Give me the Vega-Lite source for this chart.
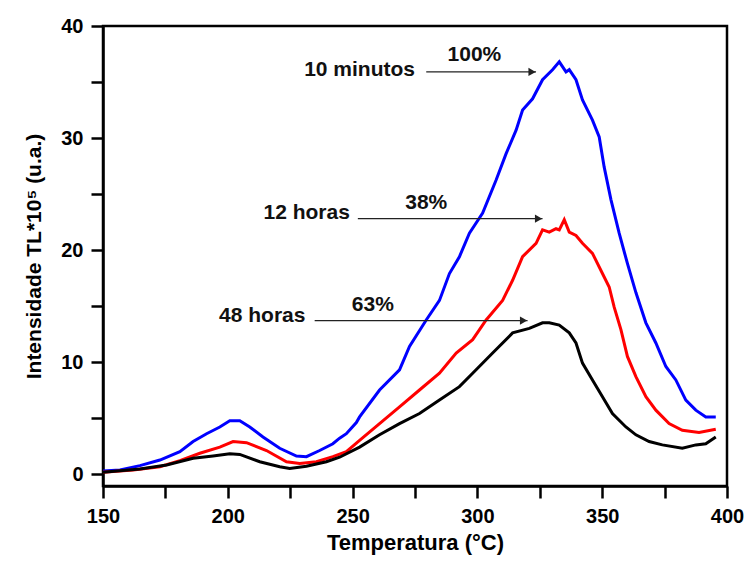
{
  "$schema": "https://vega.github.io/schema/vega-lite/v6.json",
  "width": 624,
  "height": 460,
  "autosize": {"type": "none"},
  "padding": {"left": 103, "top": 26, "right": 20, "bottom": 77},
  "background": "white",
  "config": {
    "view": {"stroke": "black", "strokeWidth": 2.5},
    "font": "Liberation Sans"
  },
  "datasets": {
    "curves": [
      {"serie": "10 minutos", "T": 150, "I": 0.27},
      {"serie": "10 minutos", "T": 156.8, "I": 0.36},
      {"serie": "10 minutos", "T": 164.8, "I": 0.75},
      {"serie": "10 minutos", "T": 172.8, "I": 1.25},
      {"serie": "10 minutos", "T": 180.8, "I": 2.0},
      {"serie": "10 minutos", "T": 186.1, "I": 2.9},
      {"serie": "10 minutos", "T": 191.5, "I": 3.6},
      {"serie": "10 minutos", "T": 196.8, "I": 4.2},
      {"serie": "10 minutos", "T": 200.8, "I": 4.75},
      {"serie": "10 minutos", "T": 204.8, "I": 4.75},
      {"serie": "10 minutos", "T": 208.8, "I": 4.2},
      {"serie": "10 minutos", "T": 214.1, "I": 3.3},
      {"serie": "10 minutos", "T": 220.8, "I": 2.3},
      {"serie": "10 minutos", "T": 227.5, "I": 1.6},
      {"serie": "10 minutos", "T": 231.5, "I": 1.55},
      {"serie": "10 minutos", "T": 236.8, "I": 2.1},
      {"serie": "10 minutos", "T": 242.1, "I": 2.7},
      {"serie": "10 minutos", "T": 244.8, "I": 3.2},
      {"serie": "10 minutos", "T": 247.5, "I": 3.6},
      {"serie": "10 minutos", "T": 251.5, "I": 4.6},
      {"serie": "10 minutos", "T": 252.8, "I": 5.1},
      {"serie": "10 minutos", "T": 260.8, "I": 7.5},
      {"serie": "10 minutos", "T": 268.8, "I": 9.3},
      {"serie": "10 minutos", "T": 272.8, "I": 11.4},
      {"serie": "10 minutos", "T": 279.5, "I": 13.75},
      {"serie": "10 minutos", "T": 284.8, "I": 15.5},
      {"serie": "10 minutos", "T": 288.8, "I": 17.9},
      {"serie": "10 minutos", "T": 292.8, "I": 19.4},
      {"serie": "10 minutos", "T": 296.8, "I": 21.5},
      {"serie": "10 minutos", "T": 302.1, "I": 23.3},
      {"serie": "10 minutos", "T": 307.5, "I": 26.25},
      {"serie": "10 minutos", "T": 311.5, "I": 28.6},
      {"serie": "10 minutos", "T": 315.5, "I": 30.7},
      {"serie": "10 minutos", "T": 318.1, "I": 32.5},
      {"serie": "10 minutos", "T": 322.1, "I": 33.5},
      {"serie": "10 minutos", "T": 326.1, "I": 35.2},
      {"serie": "10 minutos", "T": 330.1, "I": 36.1},
      {"serie": "10 minutos", "T": 332.8, "I": 36.8},
      {"serie": "10 minutos", "T": 335.5, "I": 35.9},
      {"serie": "10 minutos", "T": 336.8, "I": 36.1},
      {"serie": "10 minutos", "T": 339.5, "I": 35.2},
      {"serie": "10 minutos", "T": 342.1, "I": 33.4},
      {"serie": "10 minutos", "T": 346.1, "I": 31.6},
      {"serie": "10 minutos", "T": 348.8, "I": 30.1},
      {"serie": "10 minutos", "T": 350.8, "I": 27.4},
      {"serie": "10 minutos", "T": 353.5, "I": 24.5},
      {"serie": "10 minutos", "T": 356.8, "I": 21.5},
      {"serie": "10 minutos", "T": 360.1, "I": 18.8},
      {"serie": "10 minutos", "T": 363.5, "I": 16.2},
      {"serie": "10 minutos", "T": 367.5, "I": 13.5},
      {"serie": "10 minutos", "T": 371.5, "I": 11.7},
      {"serie": "10 minutos", "T": 375.5, "I": 9.6},
      {"serie": "10 minutos", "T": 379.5, "I": 8.4},
      {"serie": "10 minutos", "T": 383.5, "I": 6.6},
      {"serie": "10 minutos", "T": 387.5, "I": 5.7},
      {"serie": "10 minutos", "T": 391.5, "I": 5.1},
      {"serie": "10 minutos", "T": 395.5, "I": 5.1},
      {"serie": "12 horas", "T": 150, "I": 0.15},
      {"serie": "12 horas", "T": 162.1, "I": 0.36},
      {"serie": "12 horas", "T": 172.8, "I": 0.65},
      {"serie": "12 horas", "T": 180.8, "I": 1.2},
      {"serie": "12 horas", "T": 188.8, "I": 1.85},
      {"serie": "12 horas", "T": 196.8, "I": 2.4},
      {"serie": "12 horas", "T": 202.1, "I": 2.9},
      {"serie": "12 horas", "T": 207.5, "I": 2.8},
      {"serie": "12 horas", "T": 215.5, "I": 2.1},
      {"serie": "12 horas", "T": 223.5, "I": 1.1},
      {"serie": "12 horas", "T": 228.8, "I": 0.95},
      {"serie": "12 horas", "T": 235.5, "I": 1.1},
      {"serie": "12 horas", "T": 242.1, "I": 1.55},
      {"serie": "12 horas", "T": 247.5, "I": 2.0},
      {"serie": "12 horas", "T": 252.8, "I": 3.0},
      {"serie": "12 horas", "T": 260.8, "I": 4.5},
      {"serie": "12 horas", "T": 268.8, "I": 6.0},
      {"serie": "12 horas", "T": 276.8, "I": 7.5},
      {"serie": "12 horas", "T": 284.8, "I": 9.0},
      {"serie": "12 horas", "T": 291.5, "I": 10.8},
      {"serie": "12 horas", "T": 298.1, "I": 12.0},
      {"serie": "12 horas", "T": 303.5, "I": 13.75},
      {"serie": "12 horas", "T": 310.1, "I": 15.5},
      {"serie": "12 horas", "T": 314.1, "I": 17.3},
      {"serie": "12 horas", "T": 318.1, "I": 19.4},
      {"serie": "12 horas", "T": 323.5, "I": 20.6},
      {"serie": "12 horas", "T": 326.1, "I": 21.8},
      {"serie": "12 horas", "T": 328.8, "I": 21.6},
      {"serie": "12 horas", "T": 331.5, "I": 21.9},
      {"serie": "12 horas", "T": 332.8, "I": 21.8},
      {"serie": "12 horas", "T": 334.8, "I": 22.7},
      {"serie": "12 horas", "T": 336.8, "I": 21.6},
      {"serie": "12 horas", "T": 339.5, "I": 21.3},
      {"serie": "12 horas", "T": 342.1, "I": 20.6},
      {"serie": "12 horas", "T": 346.1, "I": 19.7},
      {"serie": "12 horas", "T": 350.1, "I": 17.9},
      {"serie": "12 horas", "T": 352.8, "I": 16.7},
      {"serie": "12 horas", "T": 354.8, "I": 14.9},
      {"serie": "12 horas", "T": 357.5, "I": 12.9},
      {"serie": "12 horas", "T": 360.1, "I": 10.5},
      {"serie": "12 horas", "T": 363.5, "I": 8.7},
      {"serie": "12 horas", "T": 367.5, "I": 6.9},
      {"serie": "12 horas", "T": 371.5, "I": 5.7},
      {"serie": "12 horas", "T": 376.8, "I": 4.5},
      {"serie": "12 horas", "T": 382.1, "I": 3.9},
      {"serie": "12 horas", "T": 388.8, "I": 3.7},
      {"serie": "12 horas", "T": 395.5, "I": 4.0},
      {"serie": "48 horas", "T": 150, "I": 0.15},
      {"serie": "48 horas", "T": 164.8, "I": 0.45},
      {"serie": "48 horas", "T": 175.5, "I": 0.8},
      {"serie": "48 horas", "T": 186.1, "I": 1.4},
      {"serie": "48 horas", "T": 194.1, "I": 1.6},
      {"serie": "48 horas", "T": 200.8, "I": 1.8},
      {"serie": "48 horas", "T": 204.8, "I": 1.75},
      {"serie": "48 horas", "T": 212.8, "I": 1.1},
      {"serie": "48 horas", "T": 220.8, "I": 0.65},
      {"serie": "48 horas", "T": 224.8, "I": 0.5},
      {"serie": "48 horas", "T": 231.5, "I": 0.7},
      {"serie": "48 horas", "T": 239.5, "I": 1.1},
      {"serie": "48 horas", "T": 244.8, "I": 1.5},
      {"serie": "48 horas", "T": 252.8, "I": 2.4},
      {"serie": "48 horas", "T": 260.8, "I": 3.5},
      {"serie": "48 horas", "T": 268.8, "I": 4.5},
      {"serie": "48 horas", "T": 276.8, "I": 5.4},
      {"serie": "48 horas", "T": 284.8, "I": 6.6},
      {"serie": "48 horas", "T": 292.8, "I": 7.8},
      {"serie": "48 horas", "T": 298.1, "I": 9.0},
      {"serie": "48 horas", "T": 306.1, "I": 10.8},
      {"serie": "48 horas", "T": 314.1, "I": 12.6},
      {"serie": "48 horas", "T": 320.8, "I": 13.0},
      {"serie": "48 horas", "T": 326.1, "I": 13.5},
      {"serie": "48 horas", "T": 328.8, "I": 13.5},
      {"serie": "48 horas", "T": 332.8, "I": 13.3},
      {"serie": "48 horas", "T": 336.8, "I": 12.6},
      {"serie": "48 horas", "T": 339.5, "I": 11.7},
      {"serie": "48 horas", "T": 342.1, "I": 9.9},
      {"serie": "48 horas", "T": 346.1, "I": 8.4},
      {"serie": "48 horas", "T": 350.1, "I": 6.9},
      {"serie": "48 horas", "T": 354.1, "I": 5.4},
      {"serie": "48 horas", "T": 359.5, "I": 4.2},
      {"serie": "48 horas", "T": 363.5, "I": 3.5},
      {"serie": "48 horas", "T": 368.8, "I": 2.9},
      {"serie": "48 horas", "T": 374.1, "I": 2.6},
      {"serie": "48 horas", "T": 382.1, "I": 2.3},
      {"serie": "48 horas", "T": 387.5, "I": 2.6},
      {"serie": "48 horas", "T": 391.5, "I": 2.7},
      {"serie": "48 horas", "T": 395.5, "I": 3.3}
    ],
    "arrows": [
      {"x1": 279.5, "x2": 323.5, "y": 35.9},
      {"x1": 252.1, "x2": 326.1, "y": 22.8},
      {"x1": 234.8, "x2": 320.1, "y": 13.7}
    ],
    "labels": [
      {"label": "10 minutos", "x": 252.8, "y": 36.1},
      {"label": "100%", "x": 298.8, "y": 37.4},
      {"label": "12 horas", "x": 231.6, "y": 23.3},
      {"label": "38%", "x": 279.5, "y": 24.2},
      {"label": "48 horas", "x": 213.8, "y": 14.1},
      {"label": "63%", "x": 258.1, "y": 15.1}
    ]
  },
  "layer": [
    {
      "data": {"name": "curves"},
      "mark": {"type": "line", "strokeWidth": 3},
      "encoding": {
        "x": {
          "field": "T", "type": "quantitative",
          "scale": {"domain": [150, 400], "nice": false, "zero": false},
          "axis": {
            "title": "Temperatura (°C)",
            "values": [150, 175, 200, 225, 250, 275, 300, 325, 350, 375, 400],
            "labelExpr": "datum.value % 50 === 0 ? datum.label : ''",
            "labelFont": "Liberation Sans", "labelFontWeight": "bold", "labelFontSize": 20, "labelColor": "black",
            "labelPadding": 8, "labelFlush": false, "labelOverlap": false,
            "tickColor": "black", "tickWidth": 2.5, "tickSize": 12,
            "domainColor": "black", "domainWidth": 2.5, "grid": false,
            "titleFont": "Liberation Sans", "titleFontWeight": "bold", "titleFontSize": 22, "titleColor": "black", "titlePadding": 6,
            "encode": {"ticks": {"update": {"y2": {"signal": "datum.value % 50 === 0 ? 12 : 6"}}}}
          }
        },
        "y": {
          "field": "I", "type": "quantitative",
          "scale": {"domain": [-1.07, 40], "nice": false, "zero": false},
          "axis": {
            "title": "Intensidade TL*10⁵ (u.a.)",
            "values": [0, 5, 10, 15, 20, 25, 30, 35, 40],
            "labelExpr": "datum.value % 10 === 0 ? datum.label : ''",
            "labelFont": "Liberation Sans", "labelFontWeight": "bold", "labelFontSize": 20, "labelColor": "black",
            "labelPadding": 8, "labelFlush": false, "labelOverlap": false,
            "tickColor": "black", "tickWidth": 2.5, "tickSize": 12,
            "domainColor": "black", "domainWidth": 2.5, "grid": false,
            "titleFont": "Liberation Sans", "titleFontWeight": "bold", "titleFontSize": 21, "titleColor": "black", "titlePadding": 16,
            "encode": {"ticks": {"update": {"x2": {"signal": "datum.value % 10 === 0 ? -12 : -6"}}}}
          }
        },
        "color": {
          "field": "serie", "type": "nominal",
          "scale": {"domain": ["10 minutos", "12 horas", "48 horas"], "range": ["#0000ff", "#ff0000", "#000000"]},
          "legend": null
        }
      }
    },
    {
      "data": {"name": "arrows"},
      "mark": {"type": "rule", "color": "#222222", "strokeWidth": 1.3},
      "encoding": {
        "x": {"field": "x1", "type": "quantitative"},
        "x2": {"field": "x2"},
        "y": {"field": "y", "type": "quantitative"}
      }
    },
    {
      "data": {"name": "arrows"},
      "mark": {"type": "point", "shape": "triangle-right", "filled": true, "color": "#222222", "size": 70, "opacity": 1, "xOffset": -4},
      "encoding": {
        "x": {"field": "x2", "type": "quantitative"},
        "y": {"field": "y", "type": "quantitative"}
      }
    },
    {
      "data": {"name": "labels"},
      "mark": {"type": "text", "font": "Liberation Sans", "fontWeight": "bold", "fontSize": 21, "color": "#111111", "align": "center", "baseline": "middle"},
      "encoding": {
        "x": {"field": "x", "type": "quantitative"},
        "y": {"field": "y", "type": "quantitative"},
        "text": {"field": "label"}
      }
    }
  ]
}
